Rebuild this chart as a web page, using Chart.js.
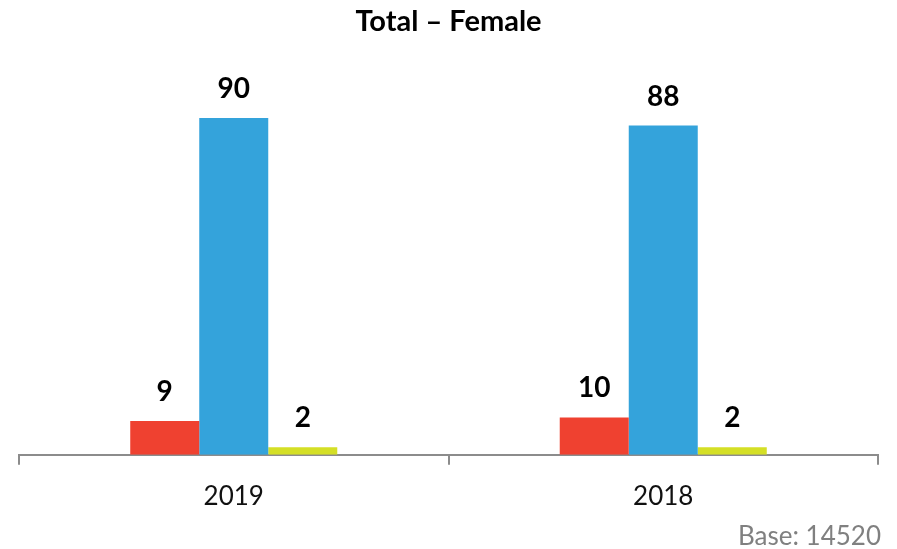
<!DOCTYPE html>
<html>
<head>
<meta charset="utf-8">
<script src="https://cdn.jsdelivr.net/npm/chart.js@4"></script>
<style>
  html, body { margin: 0; padding: 0; background: #fff; }
  #wrap { width: 897px; height: 549px; position: relative; }
</style>
</head>
<body>
<div id="wrap"><canvas id="chart" width="897" height="549"></canvas></div>
<script>
        // --- data ---
        const categories = ['2019', '2018'];
        const seriesRed = [9, 10];
        const seriesBlue = [90, 88];
        const seriesYellow = [2, 2];
        const baseText = 'Base: 14520';

        const FONT = "Lato, 'Open Sans', sans-serif";

        // draw the numbers above each bar
        const valueLabels = {
            id: 'valueLabels',
            afterDatasetsDraw(chart) {
                const ctx = chart.ctx;
                ctx.save();
                ctx.font = 'bold 28px ' + FONT;
                ctx.fillStyle = '#000';
                ctx.textAlign = 'center';
                ctx.textBaseline = 'alphabetic';
                chart.data.datasets.forEach((ds, i) => {
                    const meta = chart.getDatasetMeta(i);
                    meta.data.forEach((bar, j) => {
                        ctx.fillText(String(ds.data[j]), bar.x, bar.y - 20);
                    });
                });
                ctx.restore();
            }
        };

        // footnote bottom right
        const baseNote = {
            id: 'baseNote',
            afterDraw(chart) {
                const ctx = chart.ctx;
                ctx.save();
                ctx.font = '26px ' + FONT;
                ctx.fillStyle = '#808080';
                ctx.textAlign = 'right';
                ctx.textBaseline = 'alphabetic';
                ctx.fillText(baseText, 881, 545);
                ctx.restore();
            }
        };

        const ctx = document.getElementById('chart').getContext('2d');
        new Chart(ctx, {
            type: 'bar',
            data: {
                labels: categories,
                datasets: [
                    { data: seriesRed, backgroundColor: '#EF4130' },
                    { data: seriesBlue, backgroundColor: '#34A3DB' },
                    { data: seriesYellow, backgroundColor: '#D4DF26' }
                ]
            },
            options: {
                responsive: false,
                animation: false,
                categoryPercentage: 0.482,
                barPercentage: 1,
                layout: { padding: { left: 19, right: 19, bottom: 21, top: 0 } },
                plugins: {
                    legend: { display: false },
                    tooltip: { enabled: false },
                    title: {
                        display: true,
                        text: 'Total – Female',
                        color: '#000',
                        font: { family: FONT, size: 29, weight: 'bold' },
                        padding: { top: 4, bottom: 22 }
                    }
                },
                scales: {
                    x: {
                        offset: true,
                        grid: {
                            offset: true,
                            drawOnChartArea: false,
                            drawTicks: true,
                            tickLength: 10,
                            color: '#8c8c8c',
                            lineWidth: 2
                        },
                        border: { color: '#8c8c8c', width: 2 },
                        ticks: {
                            color: '#111',
                            padding: 16,
                            font: { family: FONT, size: 26 }
                        }
                    },
                    y: {
                        display: false,
                        min: 0,
                        max: 105.3
                    }
                }
            },
            plugins: [valueLabels, baseNote]
        });
</script>
</body>
</html>
